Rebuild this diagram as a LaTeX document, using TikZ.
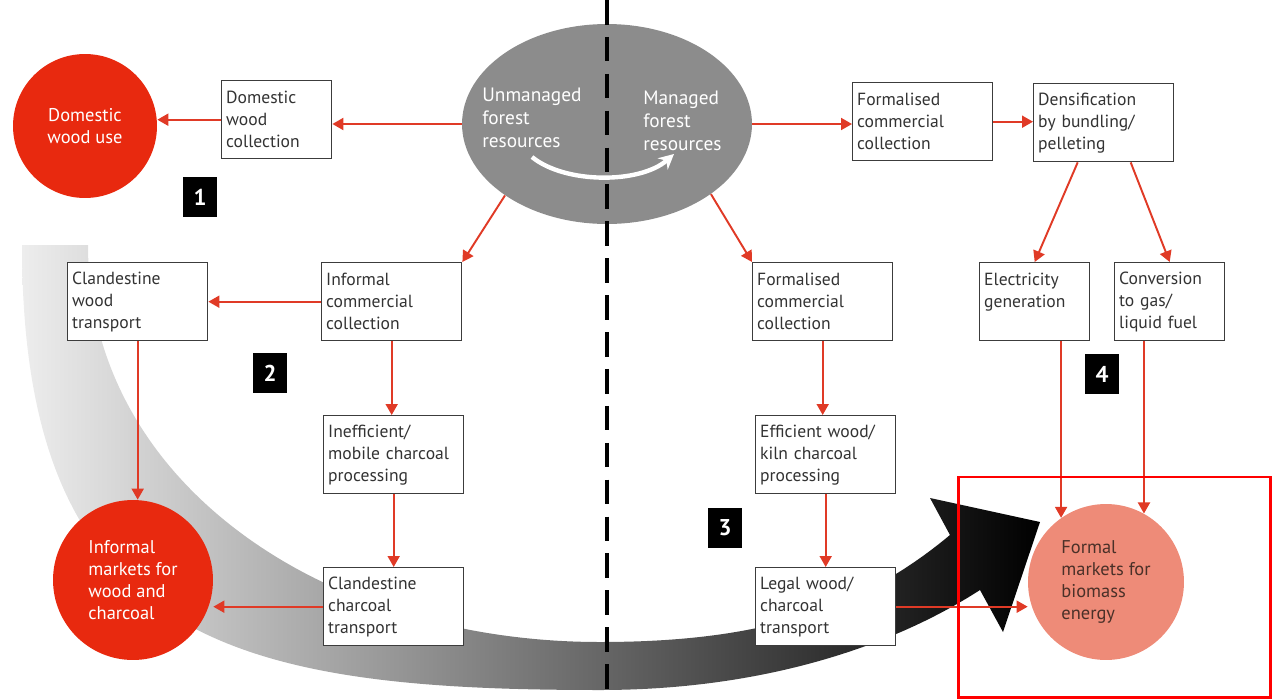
\documentclass[tikz,border=0pt]{standalone}
\usepackage{fontspec}
\setmainfont{PT Sans}
\usetikzlibrary{positioning,arrows.meta,shapes.geometric}

\definecolor{arrred}{HTML}{E03A26}
\definecolor{mktred}{HTML}{E8290F}
\definecolor{mktpink}{HTML}{EE8B78}
\definecolor{fmktext}{HTML}{4A3028}
\definecolor{forestgrey}{HTML}{8C8C8C}
\definecolor{boxline}{HTML}{3C3C3C}
\definecolor{boxtext}{HTML}{333333}

\begin{document}
\begin{tikzpicture}[
  x=0.02cm, y=-0.02cm,
  box/.style={draw=boxline, line width=0.8pt, fill=white, text=boxtext, align=left, anchor=north west, minimum width=2.8cm, minimum height=1.56cm, text width=2.62cm, inner xsep=0.09cm, font=\fontsize{10}{12.5}\selectfont},
  smallbox/.style={box, minimum width=2.2cm, text width=2.02cm},
  market/.style={circle, inner sep=0pt, text=white, align=left, font=\fontsize{10.5}{12.5}\selectfont},
  foresttext/.style={text=white, align=left, anchor=north west, inner sep=0pt, font=\fontsize{11}{13}\selectfont},
  num/.style={fill=black, text=white, font=\bfseries\fontsize{13}{13}\selectfont, minimum width=0.68cm, minimum height=0.8cm, inner sep=0pt},
  arr/.style={-{Triangle[length=2.2mm,width=2.4mm]}, draw=arrred, line width=1.1pt},
  divider/.style={line width=2pt, dash pattern=on 14pt off 7pt}
]
\useasboundingbox (0,0) rectangle (1272,700);

% big sweep from informal to formal markets
\shade[left color=black!7, right color=black]
  (22,245) .. controls (22,640) and (230,690) .. (600,690)
  .. controls (760,690) and (890,648) .. (980,590)
  -- (1003,632) -- (1040,522) -- (930,498) -- (950,535)
  .. controls (860,610) and (760,642) .. (600,642)
  .. controls (320,642) and (88,480) .. (88,245) -- cycle;

% forest resources
\node[ellipse, fill=forestgrey, minimum width=5.8cm, minimum height=4cm, inner sep=0pt] (forest) at (607,124) {};
\node[foresttext] (unman) at (482,88) {Unmanaged\\forest\\resources};
\node[foresttext] (man) at (643,91) {Managed\\forest\\resources};

\coordinate (divtop) at (607,0);
\coordinate (divbot) at (607,700);
\draw[divider] (divtop) -- (divbot);

\coordinate (a1) at (532,157);
\coordinate (a2) at (674,154);
\draw[white, line width=2.5pt, -{Stealth[length=3mm,width=3mm]}] (a1) .. controls (565,184) and (640,184) .. (a2);

% boxes
\node[smallbox] (dwc) at (221,80) {Domestic\\wood\\collection};
\node[box] (fcc1) at (852,82) {Formalised\\commercial\\collection};
\node[box] (dens) at (1033,83) {Densification\\by bundling/\\pelleting};
\node[smallbox] (elec) at (979,262) {Electricity\\generation\\\mbox{}};
\node[smallbox] (conv) at (1114,262) {Conversion\\to gas/\\liquid fuel};
\node[box] (icc) at (321,262) {Informal\\commercial\\collection};
\node[box] (cwt) at (67,262) {Clandestine\\wood\\transport};
\node[box] (ineff) at (323,415) {Inefficient/\\mobile charcoal\\processing};
\node[box] (cct) at (323,567) {Clandestine\\charcoal\\transport};
\node[box] (fcc2) at (752,262) {Formalised\\commercial\\collection};
\node[box] (eff) at (755,415) {Efficient wood/\\kiln charcoal\\processing};
\node[box] (legal) at (755,567) {Legal wood/\\charcoal\\transport};

% markets
\node[market, fill=mktred, minimum size=2.88cm, align=center] (dwu) at (85,126) {Domestic\\wood use};
\node[market, fill=mktred, minimum size=3.2cm] (imk) at (133,580) {Informal\\markets for\\wood and\\charcoal};
\node[market, fill=mktpink, text=fmktext, minimum size=3.12cm] (fmk) at (1106,582) {Formal\\markets for\\biomass\\energy};

\node[num] (n1) at (200,197) {1};
\node[num] (n2) at (270,373) {2};
\node[num] (n3) at (725,528) {3};
\node[num] (n4) at (1102,374) {4};

% flows
\draw[arr] (dwc.west) -- (dwc.west -| dwu.east);
\draw[arr] (forest.west) -- (forest.west -| dwc.east);
\draw[arr] (forest.east) -- (forest.east -| fcc1.west);
\draw[arr] (fcc1.east) -- (fcc1.east -| dens.west);
\draw[arr] ([xshift=-0.52cm]dens.south) -- (elec.north);
\draw[arr] ([xshift=0.54cm]dens.south) -- (conv.north);
\draw[arr] (forest.215) -- (icc.north east);
\draw[arr] (forest.-34) -- (fcc2.north west);
\draw[arr] (icc.west) -- (icc.west -| cwt.east);
\draw[arr] (icc.south) -- (icc.south |- ineff.north);
\draw[arr] (ineff.south) -- (cct.north);
\draw[arr] (cwt.south) -- (cwt.south |- imk.north);
\draw[arr] (cct.west) -- (cct.west -| imk.east);
\draw[arr] (fcc2.south) -- (fcc2.south |- eff.north);
\draw[arr] (eff.south) -- (legal.north);
\draw[arr] (legal.east) -- (legal.east -| fmk.west);
\draw[arr] (fmk.125 |- elec.south) -- (fmk.125);
\draw[arr] (fmk.61 |- conv.south) -- (fmk.61);

\draw[red, line width=1.7pt] (958,477) rectangle (1270,697);
\end{tikzpicture}
\end{document}
